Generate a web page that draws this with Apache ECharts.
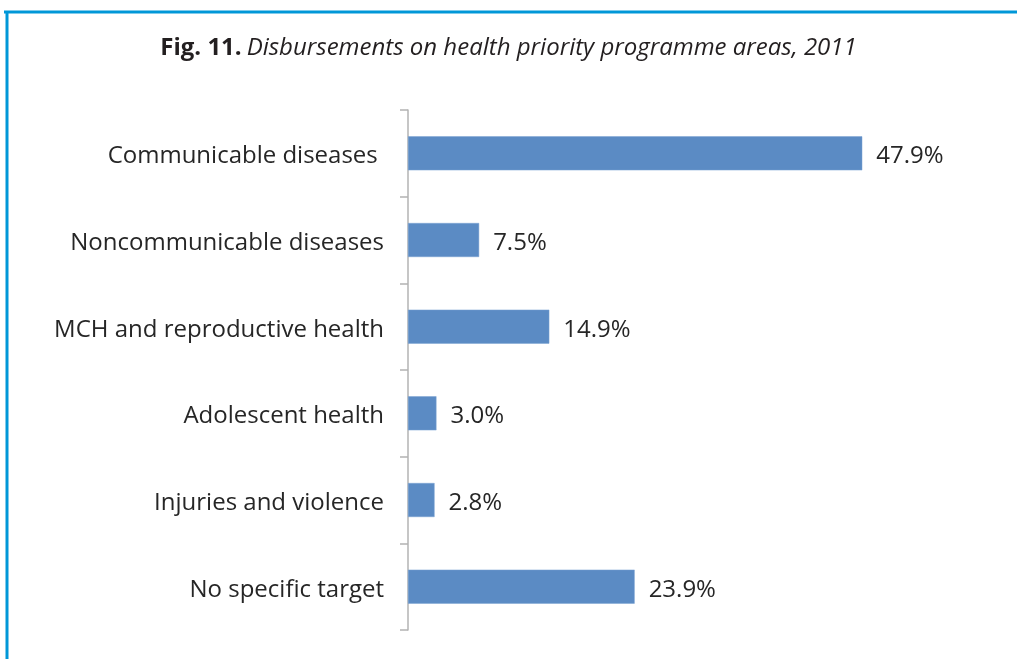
<!DOCTYPE html>
<html>
<head>
<meta charset="utf-8">
<script src="https://cdn.jsdelivr.net/npm/echarts@6/dist/echarts.min.js"></script>
<style>
  html, body { margin: 0; padding: 0; background: #ffffff; }
  #chart { width: 1017px; height: 659px; }
</style>
</head>
<body>
<div id="chart"></div>
<script>
// Programme areas, top to bottom
const categories = [
  'Communicable diseases ',
  'Noncommunicable diseases',
  'MCH and reproductive health',
  'Adolescent health',
  'Injuries and violence',
  'No specific target'
];
// Share of disbursements, %
const shares = [47.9, 7.5, 14.9, 3.0, 2.8, 23.9];

const chart = echarts.init(document.getElementById('chart'));
const FONT = 'Open Sans';

// Text style used for category and value labels, nudged slightly below the band centre
const labelRich = {
  t: { fontFamily: FONT, fontSize: 24, color: '#262626', padding: [6, 0, 0, 0] }
};

chart.setOption({
  animation: false,
  backgroundColor: '#ffffff',
  title: {
    text: '{b|Fig. 11.} {i|Disbursements on health priority programme areas, 2011}',
    left: 'center',
    top: 31,
    textStyle: {
      rich: {
        b: { fontFamily: 'Open Sans', fontWeight: 'bold', fontSize: 24, color: '#231f20' },
        i: { fontFamily: 'Open Sans', fontStyle: 'italic', fontWeight: 'normal', fontSize: 24, color: '#231f20' }
      }
    }
  },
  graphic: [
    { type: 'line', shape: { x1: 4, y1: 12, x2: 1017, y2: 12 }, style: { stroke: '#0097d8', lineWidth: 3 } },
    { type: 'line', shape: { x1: 7, y1: 11, x2: 7, y2: 659 }, style: { stroke: '#0097d8', lineWidth: 3 } }
  ],
  grid: { left: 408, top: 110, width: 569, bottom: 29, containLabel: false },
  xAxis: {
    type: 'value',
    min: 0,
    max: 60,
    show: false
  },
  yAxis: {
    type: 'category',
    data: categories,
    inverse: true,
    axisLine: { show: true, lineStyle: { color: '#b3b3b3', width: 1.5 } },
    axisTick: { show: true, length: 8, lineStyle: { color: '#b3b3b3', width: 1.5 } },
    axisLabel: {
      fontFamily: FONT, fontSize: 24, color: '#262626', margin: 24,
      formatter: v => '{t|' + v + '}',
      rich: labelRich
    },
    splitLine: { show: false }
  },
  series: [{
    type: 'bar',
    data: shares,
    barWidth: 34,
    itemStyle: { color: '#5b8bc4', borderColor: '#7aa3d3', borderWidth: 0.5 },
    label: {
      show: true,
      position: 'right',
      distance: 14,
      fontFamily: FONT,
      fontSize: 24,
      color: '#262626',
      formatter: p => '{t|' + p.value.toFixed(1) + '%}',
      rich: labelRich
    }
  }]
});
</script>
</body>
</html>
